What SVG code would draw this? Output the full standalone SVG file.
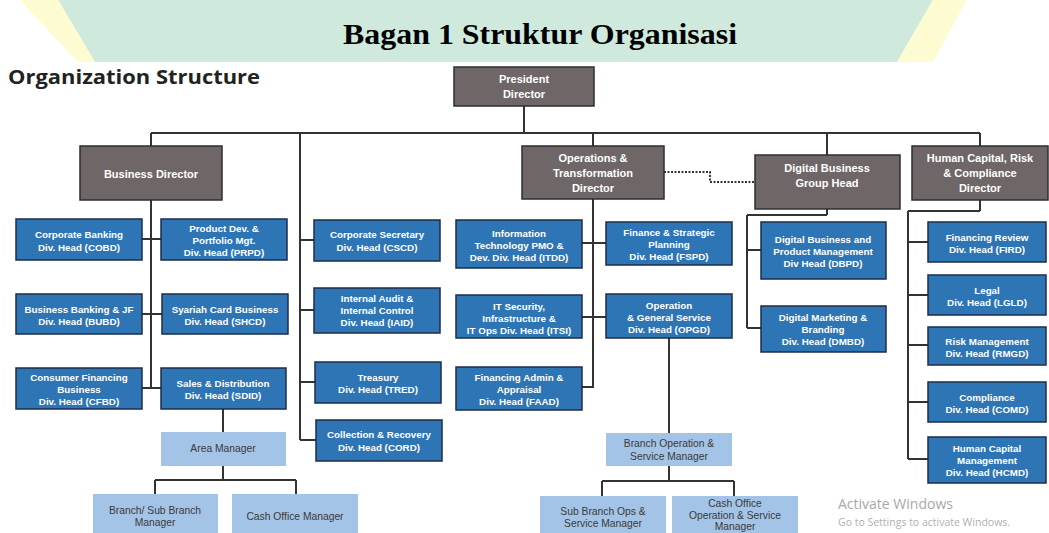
<svg xmlns="http://www.w3.org/2000/svg" width="1049" height="533" viewBox="0 0 1049 533">
<style>
.g{fill:#6f6767;stroke:#2e2e2e;stroke-width:1.5}
.b{fill:#2e75b6;stroke:#1c2c4c;stroke-width:1.5}
.l{fill:#a3c4e6}
.tg{fill:#fff;font-family:"Liberation Sans",Arial,sans-serif;font-weight:bold;font-size:11px;text-anchor:middle}
.tb{fill:#fff;font-family:"Liberation Sans",Arial,sans-serif;font-weight:bold;font-size:9.8px;text-anchor:middle}
.tl{fill:#3a3a3a;font-family:"Liberation Sans",Arial,sans-serif;font-size:10.3px;text-anchor:middle}
.c{fill:none;stroke:#333;stroke-width:2}
</style>
<rect width="1049" height="533" fill="#fff"/>
<g id="watermark">
<polygon points="58,0 933,0 897,62 95,62" fill="#cfeadc"/>
<polygon points="20,0 58,0 95,62 78,62" fill="#fdfbd2"/>
<polygon points="933,0 967,0 933,62 897,62" fill="#fdfbd2"/>
</g>
<text x="343" y="44" font-family="'Liberation Serif','Times New Roman',serif" font-weight="bold" font-size="29" textLength="394" lengthAdjust="spacingAndGlyphs">Bagan 1 Struktur Organisasi</text>
<text x="8" y="84" font-family="'Open Sans','Liberation Sans',sans-serif" font-weight="bold" font-size="20" textLength="252" lengthAdjust="spacingAndGlyphs" fill="#222">Organization Structure</text>

<g id="connectors">
<path class="c" d="M524,106V133M151,133H980M151,133V146M593,133V146M827,133V155M980,133V146M300,133V440"/>
<path class="c" d="M151,200V388M142,239H161M142,314H162M142,388H161"/>
<path class="c" d="M223,409V432M223,466V480M155,480H296M155,480V494M296,480V494"/>
<path class="c" d="M300,240H314M300,310H314M300,382H315M300,440H316"/>
<path class="c" d="M593,199V388M582,243H606M582,317H606M582,387H593"/>
<path class="c" d="M669,338V433M669,466V481M602,481H734M602,481V496M734,481V496"/>
<path class="c" d="M827,209V215M747,215H827M747,215V328M747,250H761M747,328H761"/>
<path class="c" d="M980,200V211M908,211H980M908,211V459M908,242H928M908,295H928M908,345H928M908,402H928M908,459H928"/>
<path d="M664,172H710V182H755" fill="none" stroke="#333" stroke-width="2" stroke-dasharray="2,1.5"/>
</g>

<g id="president"><rect class="g" x="454" y="67" width="140" height="39"/><text class="tg" x="524" y="83">President</text><text class="tg" x="524" y="98">Director</text></g>
<g id="business-director"><rect class="g" x="80" y="146" width="142" height="54"/><text class="tg" x="151" y="178">Business Director</text></g>
<g id="ops-director"><rect class="g" x="522" y="146" width="142" height="53"/><text class="tg" x="593" y="162">Operations &amp;</text><text class="tg" x="593" y="177">Transformation</text><text class="tg" x="593" y="192">Director</text></g>
<g id="digital-head"><rect class="g" x="755" y="155" width="145" height="54"/><text class="tg" x="827" y="172">Digital Business</text><text class="tg" x="827" y="187">Group Head</text></g>
<g id="hc-director"><rect class="g" x="912" y="146" width="136" height="54"/><text class="tg" x="980" y="162">Human Capital, Risk</text><text class="tg" x="980" y="177">&amp; Compliance</text><text class="tg" x="980" y="192">Director</text></g>

<g id="cobd"><rect class="b" x="16" y="219" width="126" height="41"/><text class="tb" x="79" y="238">Corporate Banking</text><text class="tb" x="79" y="251">Div. Head (COBD)</text></g>
<g id="prpd"><rect class="b" x="161" y="219" width="126" height="41"/><text class="tb" x="224" y="232">Product Dev. &amp;</text><text class="tb" x="224" y="244">Portfolio Mgt.</text><text class="tb" x="224" y="256">Div. Head (PRPD)</text></g>
<g id="bubd"><rect class="b" x="16" y="294" width="126" height="40"/><text class="tb" x="79" y="313">Business Banking &amp; JF</text><text class="tb" x="79" y="325">Div. Head (BUBD)</text></g>
<g id="shcd"><rect class="b" x="162" y="294" width="126" height="40"/><text class="tb" x="225" y="313">Syariah Card Business</text><text class="tb" x="225" y="325">Div. Head (SHCD)</text></g>
<g id="cfbd"><rect class="b" x="16" y="368" width="126" height="41"/><text class="tb" x="79" y="381">Consumer Financing</text><text class="tb" x="79" y="393">Business</text><text class="tb" x="79" y="405">Div. Head (CFBD)</text></g>
<g id="sdid"><rect class="b" x="161" y="368" width="125" height="41"/><text class="tb" x="223" y="387">Sales &amp; Distribution</text><text class="tb" x="223" y="399">Div. Head (SDID)</text></g>
<g id="area-manager"><rect class="l" x="161" y="432" width="125" height="34"/><text class="tl" x="223" y="452">Area Manager</text></g>
<g id="branch-manager"><rect class="l" x="93" y="494" width="125" height="45"/><text class="tl" x="155" y="514">Branch/ Sub Branch</text><text class="tl" x="155" y="526">Manager</text></g>
<g id="cash-office-manager"><rect class="l" x="232" y="494" width="126" height="45"/><text class="tl" x="295" y="520">Cash Office Manager</text></g>

<g id="cscd"><rect class="b" x="314" y="220" width="126" height="41"/><text class="tb" x="377" y="238">Corporate Secretary</text><text class="tb" x="377" y="251">Div. Head (CSCD)</text></g>
<g id="iaid"><rect class="b" x="314" y="288" width="126" height="45"/><text class="tb" x="377" y="302">Internal Audit &amp;</text><text class="tb" x="377" y="314">Internal Control</text><text class="tb" x="377" y="326">Div. Head (IAID)</text></g>
<g id="tred"><rect class="b" x="315" y="362" width="126" height="41"/><text class="tb" x="378" y="381">Treasury</text><text class="tb" x="378" y="393">Div. Head (TRED)</text></g>
<g id="cord"><rect class="b" x="316" y="420" width="126" height="41"/><text class="tb" x="379" y="438">Collection &amp; Recovery</text><text class="tb" x="379" y="451">Div. Head (CORD)</text></g>

<g id="itdd"><rect class="b" x="456" y="220" width="126" height="48"/><text class="tb" x="519" y="237">Information</text><text class="tb" x="519" y="249">Technology PMO &amp;</text><text class="tb" x="519" y="261">Dev. Div. Head (ITDD)</text></g>
<g id="itsi"><rect class="b" x="456" y="295" width="126" height="43"/><text class="tb" x="519" y="310">IT Security,</text><text class="tb" x="519" y="322">Infrastructure &amp;</text><text class="tb" x="519" y="334">IT Ops Div. Head (ITSI)</text></g>
<g id="faad"><rect class="b" x="456" y="367" width="126" height="43"/><text class="tb" x="519" y="381">Financing Admin &amp;</text><text class="tb" x="519" y="393">Appraisal</text><text class="tb" x="519" y="405">Div. Head (FAAD)</text></g>
<g id="fspd"><rect class="b" x="606" y="222" width="126" height="43"/><text class="tb" x="669" y="236">Finance &amp; Strategic</text><text class="tb" x="669" y="248">Planning</text><text class="tb" x="669" y="260">Div. Head (FSPD)</text></g>
<g id="opgd"><rect class="b" x="606" y="294" width="126" height="44"/><text class="tb" x="669" y="309">Operation</text><text class="tb" x="669" y="321">&amp; General Service</text><text class="tb" x="669" y="333">Div. Head (OPGD)</text></g>
<g id="branch-op-manager"><rect class="l" x="606" y="433" width="126" height="33"/><text class="tl" x="669" y="447">Branch Operation &amp;</text><text class="tl" x="669" y="460">Service  Manager</text></g>
<g id="sub-branch-ops"><rect class="l" x="540" y="496" width="126" height="45"/><text class="tl" x="603" y="515">Sub Branch Ops &amp;</text><text class="tl" x="603" y="527">Service Manager</text></g>
<g id="cash-office-ops"><rect class="l" x="672" y="496" width="126" height="45"/><text class="tl" x="735" y="507">Cash Office</text><text class="tl" x="735" y="519">Operation &amp; Service</text><text class="tl" x="735" y="530">Manager</text></g>

<g id="dbpd"><rect class="b" x="761" y="222" width="125" height="57"/><text class="tb" x="823" y="243">Digital Business and</text><text class="tb" x="823" y="255">Product Management</text><text class="tb" x="823" y="267">Div Head (DBPD)</text></g>
<g id="dmbd"><rect class="b" x="761" y="306" width="125" height="46"/><text class="tb" x="823" y="321">Digital  Marketing &amp;</text><text class="tb" x="823" y="333">Branding</text><text class="tb" x="823" y="345">Div. Head (DMBD)</text></g>

<g id="fird"><rect class="b" x="928" y="222" width="118" height="40"/><text class="tb" x="987" y="241">Financing Review</text><text class="tb" x="987" y="253">Div. Head (FIRD)</text></g>
<g id="lgld"><rect class="b" x="928" y="275" width="118" height="40"/><text class="tb" x="987" y="294">Legal</text><text class="tb" x="987" y="306">Div. Head (LGLD)</text></g>
<g id="rmgd"><rect class="b" x="928" y="327" width="118" height="38"/><text class="tb" x="987" y="345">Risk Management</text><text class="tb" x="987" y="357">Div. Head (RMGD)</text></g>
<g id="comd"><rect class="b" x="928" y="382" width="118" height="40"/><text class="tb" x="987" y="401">Compliance</text><text class="tb" x="987" y="413">Div. Head (COMD)</text></g>
<g id="hcmd"><rect class="b" x="928" y="437" width="118" height="46"/><text class="tb" x="987" y="452">Human Capital</text><text class="tb" x="987" y="464">Management</text><text class="tb" x="987" y="476">Div. Head (HCMD)</text></g>

<text x="838" y="509" font-family="'Open Sans','Noto Sans',sans-serif" font-size="14" fill="#a8a8a8">Activate Windows</text>
<text x="838" y="526" font-family="'Open Sans','Noto Sans',sans-serif" font-size="10.5" fill="#b0b0b0">Go to Settings to activate Windows.</text>
</svg>
